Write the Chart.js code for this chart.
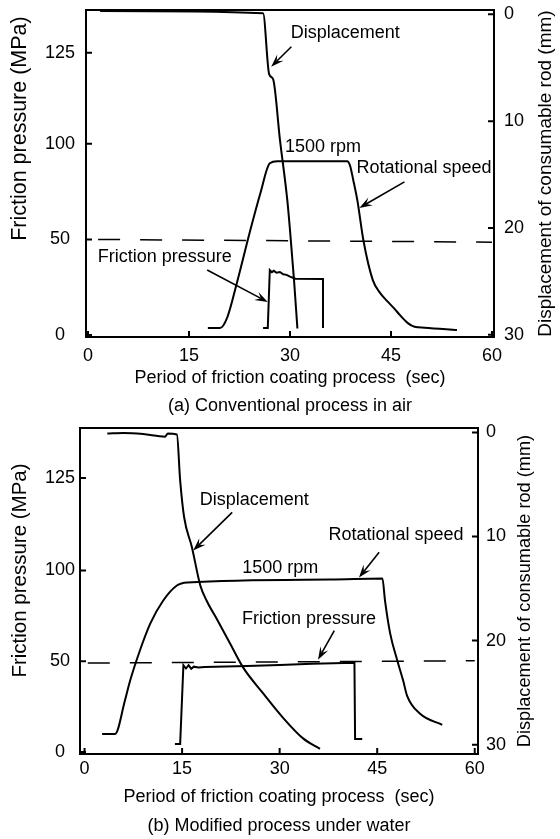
<!DOCTYPE html>
<html>
<head>
<meta charset="utf-8">
<script src="https://cdn.jsdelivr.net/npm/chart.js@4/dist/chart.umd.min.js"></script>
<style>
  body { margin: 0; background: #fff; }
  .box { position: absolute; left: 0; width: 560px; }
</style>
</head>
<body>
<div class="box" style="top:0;height:420px"><canvas id="chartA" width="560" height="420"></canvas></div>
<div class="box" style="top:420px;height:419px"><canvas id="chartB" width="560" height="419"></canvas></div>
<script>
const FONT = "'Liberation Sans', Arial, Helvetica, sans-serif";

// axes
const timeTicks = [0, 15, 30, 45, 60];
const dispTicks = [0, 10, 20, 30];
const pressTickLabels = ["0", "50", "100", "125"];
// the printed "125" sits where a linear scale would put ~150
const pressTickPosA = [0, 50, 100, 147.6];
const pressTickPosB = [0, 50, 100, 151];

// (a) conventional process in air
const timeDispA = [1.8, 26.0, 26.9, 27.5, 28.5, 29.6, 30.0, 30.6, 31.1];
const dispA = [-0.3, -0.1, 5.6, 6.1, 11.7, 17.4, 20.2, 24.9, 29.4];
const timeRotA = [17.8, 19.6, 20.7, 22.1, 24.1, 25.6, 27.0, 28.1, 38.5, 38.9, 39.4, 40.0, 40.9, 42.3, 43.4, 44.4, 45.5, 46.5, 47.5, 48.5, 50.0, 54.8];
const rotA = [0, 0, 99, 404, 880, 1213, 1482, 1500, 1500, 1464, 1330, 1150, 790, 431, 314, 245, 175, 105, 45, 12, 4, -18];
const timePresA = [26.0, 26.7, 27.0, 27.3, 27.6, 28.0, 28.5, 29.0, 29.5, 30.0, 30.8, 34.9, 34.9];
const presA = [3.7, 3.7, 34.0, 32.9, 33.6, 32.6, 33.0, 31.8, 31.5, 30.6, 29.5, 29.3, 3.7];
const refTimeA = [1.5, 60];
const refPresA = [50, 48.6];

// (b) modified process under water
const timeDispB = [3.5, 6, 9, 12.4, 12.8, 14.2, 14.7, 15.3, 16.5, 17.8, 18.8, 20.4, 22.4, 24.4, 27.5, 30.5, 33.6, 36.2];
const dispB = [0.1, 0.05, 0.15, 0.4, 0.1, 0.2, 4.6, 8.1, 11.0, 14.7, 16.2, 18.0, 20.3, 22.6, 25.1, 27.4, 29.4, 30.4];
const timeRotB = [2.7, 4.7, 6.2, 7.0, 8.5, 10.1, 12.1, 14.2, 15.8, 37.8, 45.8, 46.2, 47.0, 48.1, 49.0, 49.6, 51.6, 55.0];
const rotB = [0, 0, 328, 526, 824, 1092, 1321, 1470, 1500, 1529, 1539, 1321, 993, 725, 526, 377, 199, 90];
const timePresB = [13.9, 14.7, 15.2, 15.6, 16.0, 16.4, 16.8, 17.5, 18.5, 25, 30, 35, 41.5, 41.6, 42.7];
const presB = [4.4, 4.4, 47.8, 46.0, 47.8, 45.8, 47.0, 46.5, 46.8, 47.4, 48.0, 48.6, 49.2, 7.2, 7.2];
const refTimeB = [0.5, 60];
const refPresB = [49, 50.3];

const toXY = (xs, ys) => xs.map((x, i) => ({ x, y: ys[i] }));

function drawArrow(ctx, x1, y1, x2, y2) {
	const ang = Math.atan2(y2 - y1, x2 - x1);
	const len = 13, half = 4.5;
	ctx.beginPath();
	ctx.moveTo(x1, y1);
	ctx.lineTo(x2 - Math.cos(ang) * len * 0.6, y2 - Math.sin(ang) * len * 0.6);
	ctx.stroke();
	ctx.beginPath();
	ctx.moveTo(x2, y2);
	ctx.lineTo(x2 - Math.cos(ang) * len - Math.sin(ang) * half, y2 - Math.sin(ang) * len + Math.cos(ang) * half);
	ctx.lineTo(x2 - Math.cos(ang) * len * 0.6, y2 - Math.sin(ang) * len * 0.6);
	ctx.lineTo(x2 - Math.cos(ang) * len + Math.sin(ang) * half, y2 - Math.sin(ang) * len - Math.cos(ang) * half);
	ctx.closePath();
	ctx.fill();
}

// box round the plot and short inward ticks
const framePlugin = {
	id: "frame",
	afterDatasetsDraw(chart) {
		const { ctx, chartArea: a, scales } = chart;
		ctx.save();
		ctx.strokeStyle = "#000";
		ctx.lineWidth = 2;
		ctx.strokeRect(a.left, a.top, a.right - a.left, a.bottom - a.top);
		ctx.beginPath();
		scales.x.ticks.forEach((t) => {
			const p = scales.x.getPixelForValue(t.value);
			ctx.moveTo(p, a.bottom);
			ctx.lineTo(p, a.bottom - 6);
		});
		scales.y.ticks.forEach((t) => {
			const p = scales.y.getPixelForValue(t.value);
			ctx.moveTo(a.left, p);
			ctx.lineTo(a.left + 6, p);
		});
		scales.y2.ticks.forEach((t) => {
			const p = scales.y2.getPixelForValue(t.value);
			ctx.moveTo(a.right, p);
			ctx.lineTo(a.right - 6, p);
		});
		ctx.stroke();
		ctx.restore();
	},
};

// text labels, arrows and the two vertical axis titles (both read bottom to top)
const notesPlugin = {
	id: "notes",
	afterDraw(chart, args, opts) {
		const { ctx, chartArea: a, scales } = chart;
		const { x, y, y2 } = scales;
		ctx.save();
		ctx.fillStyle = "#000";
		ctx.strokeStyle = "#000";
		ctx.lineWidth = 1.6;
		ctx.font = "18px " + FONT;
		ctx.textAlign = "center";
		ctx.textBaseline = "middle";
		(opts.labels || []).forEach((n) => {
			ctx.fillText(n.text, x.getPixelForValue(n.t), y.getPixelForValue(n.v));
		});
		(opts.arrows || []).forEach((r) => {
			drawArrow(ctx, x.getPixelForValue(r[0]), y.getPixelForValue(r[1]), x.getPixelForValue(r[2]), y.getPixelForValue(r[3]));
		});
		const side = (t, px, py) => {
			ctx.save();
			ctx.font = t.size + "px " + FONT;
			ctx.translate(px, py);
			ctx.rotate(-Math.PI / 2);
			ctx.fillText(t.text, 0, 0);
			ctx.restore();
		};
		const lt = opts.leftTitle;
		if (lt) side(lt, y.left + lt.offset, y.getPixelForValue(lt.at));
		const rt = opts.rightTitle;
		if (rt) side(rt, y2.right - rt.offset, (a.top + a.bottom) / 2);
		ctx.restore();
	},
};

function makeChart(id, cfg) {
	const font = { family: FONT, size: 18 };
	const line = (label, data, axis, extra) =>
		Object.assign({ label, data, yAxisID: axis, borderColor: "#000", backgroundColor: "#000", borderWidth: 2, pointRadius: 0, fill: false }, extra);
	const noPadY = (w) => (s) => { s.width = w; s.paddingTop = 0; s.paddingBottom = 0; };
	return new Chart(document.getElementById(id), {
		type: "line",
		data: {
			datasets: [
				line("Displacement", toXY(cfg.timeDisp, cfg.disp), "y2", { cubicInterpolationMode: "monotone" }),
				line("Rotational speed", toXY(cfg.timeRot, cfg.rot), "rpm", { cubicInterpolationMode: "monotone" }),
				line("Friction pressure", toXY(cfg.timePres, cfg.pres), "y"),
				line("50 MPa", toXY(cfg.refTime, cfg.refPres), "y", { borderDash: [22, 20], borderWidth: 1.5 }),
			],
		},
		options: {
			responsive: false,
			animation: false,
			layout: { padding: { top: cfg.padTop, left: 0, right: 0, bottom: 0 } },
			plugins: {
				legend: { display: false },
				tooltip: { enabled: false },
				colors: { enabled: false },
				title: {
					display: true,
					position: "bottom",
					fullSize: false,
					text: cfg.caption,
					color: "#000",
					font: { family: FONT, size: 18, weight: "normal" },
					padding: cfg.captionPad,
				},
				notes: { labels: cfg.labels, arrows: cfg.arrows, leftTitle: cfg.leftTitle, rightTitle: cfg.rightTitle },
			},
			scales: {
				x: {
					type: "linear",
					min: cfg.xMin,
					max: cfg.xMax,
					afterBuildTicks: (s) => { s.ticks = timeTicks.map((v) => ({ value: v })); },
					afterFit: (s) => { s.height = cfg.xHeight; s.paddingLeft = 0; s.paddingRight = 0; },
					grid: { display: false, drawTicks: false },
					border: { display: false },
					ticks: { color: "#000", font, padding: cfg.xTickPad, maxRotation: 0, autoSkip: false },
					title: {
						display: true,
						text: "Period of friction coating process  (sec)",
						color: "#000",
						font,
						padding: { top: 0, bottom: cfg.xTitlePad },
					},
				},
				y: {
					position: "left",
					min: cfg.yMin,
					max: cfg.yMax,
					afterBuildTicks: (s) => { s.ticks = cfg.pressTickPos.map((v) => ({ value: v })); },
					afterFit: noPadY(cfg.leftWidth),
					grid: { display: false, drawTicks: false },
					border: { display: false },
					ticks: {
						color: "#000",
						font,
						padding: cfg.yTickPad,
						crossAlign: "center",
						autoSkip: false,
						callback: (v, i) => pressTickLabels[i],
					},
				},
				y2: {
					position: "right",
					reverse: true,
					min: cfg.dMin,
					max: cfg.dMax,
					afterBuildTicks: (s) => { s.ticks = dispTicks.map((v) => ({ value: v })); },
					afterFit: noPadY(cfg.rightWidth),
					grid: { display: false, drawTicks: false },
					border: { display: false },
					ticks: { color: "#000", font, padding: cfg.y2TickPad, autoSkip: false },
				},
				rpm: { type: "linear", axis: "y", position: "right", display: false, min: cfg.rpmMin, max: cfg.rpmMax },
			},
		},
		plugins: [framePlugin, notesPlugin],
	});
}

makeChart("chartA", {
	timeDisp: timeDispA, disp: dispA, timeRot: timeRotA, rot: rotA,
	timePres: timePresA, pres: presA, refTime: refTimeA, refPres: refPresA,
	caption: "(a) Conventional process in air",
	captionPad: { top: 2, bottom: 3 },
	padTop: 10,
	xMin: -0.3, xMax: 60.3, xHeight: 56.4, xTickPad: 8, xTitlePad: 4.6,
	yMin: -1, yMax: 170, pressTickPos: pressTickPosA, leftWidth: 86, yTickPad: 11,
	dMin: -0.4, dMax: 30.2, rightWidth: 66, y2TickPad: 10,
	rpmMin: -80, rpmMax: 2860,
	leftTitle: { text: "Friction pressure (MPa)", size: 21.5, offset: 20, at: 108 },
	rightTitle: { text: "Displacement of consumable rod (mm)", size: 19, offset: 14 },
	labels: [
		{ text: "Displacement", t: 38.2, v: 158 },
		{ text: "1500 rpm", t: 34.9, v: 98.4 },
		{ text: "Rotational speed", t: 49.9, v: 87.4 },
		{ text: "Friction pressure", t: 11.4, v: 40.8 },
	],
	arrows: [
		[30.2, 150.8, 27.2, 140.3],
		[47.0, 80.1, 40.3, 66.5],
		[17.7, 34, 26.7, 17.3],
	],
});

makeChart("chartB", {
	timeDisp: timeDispB, disp: dispB, timeRot: timeRotB, rot: rotB,
	timePres: timePresB, pres: presB, refTime: refTimeB, refPres: refPresB,
	caption: "(b) Modified process under water",
	captionPad: { top: 2, bottom: 2.2 },
	padTop: 8,
	xMin: -0.7, xMax: 60.5, xHeight: 59.2, xTickPad: 4, xTitlePad: 5.4,
	yMin: -1.1, yMax: 178.5, pressTickPos: pressTickPosB, leftWidth: 80, yTickPad: 5,
	dMin: -0.43, dMax: 30.9, rightWidth: 82, y2TickPad: 8,
	rpmMin: -199, rpmMax: 3030,
	leftTitle: { text: "Friction pressure (MPa)", size: 20.5, offset: 20, at: 100 },
	rightTitle: { text: "Displacement of consumable rod (mm)", size: 18.2, offset: 35 },
	labels: [
		{ text: "Displacement", t: 26.1, v: 138.7 },
		{ text: "Rotational speed", t: 47.9, v: 119.3 },
		{ text: "1500 rpm", t: 30.1, v: 101.1 },
		{ text: "Friction pressure", t: 34.5, v: 73.5 },
	],
	arrows: [
		[22.7, 132, 16.7, 111],
		[45.3, 110, 42.2, 96.1],
		[38.4, 66.9, 35.9, 50.8],
	],
});
</script>
</body>
</html>
